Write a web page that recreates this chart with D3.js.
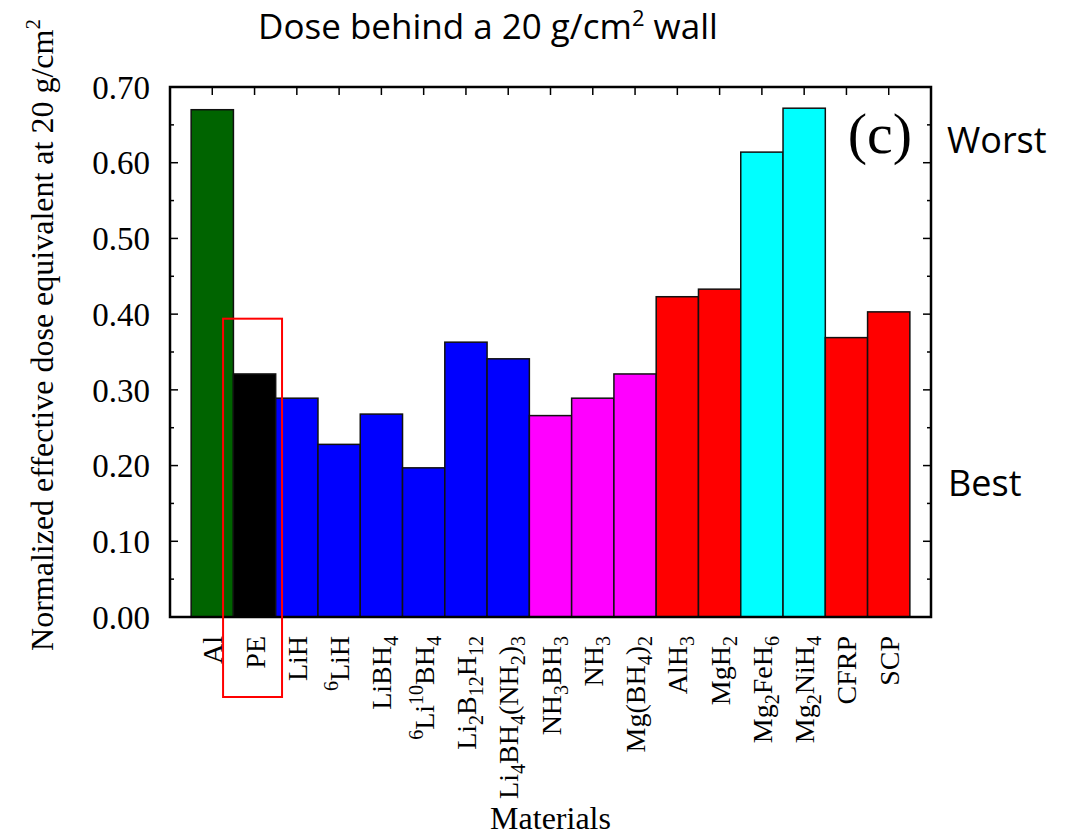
<!DOCTYPE html>
<html>
<head>
<meta charset="utf-8">
<script src="https://cdn.jsdelivr.net/npm/d3@7"></script>
<style>
  body { margin: 0; background: #fff; }
  svg { display: block; }
</style>
</head>
<body>
<div id="chart"></div>
<script>
// Dose behind a 20 g/cm2 wall, panel (c)
(function() {
    const width = 1069;
    const height = 838;
    const plot = {left: 170, right: 931, top: 87, bottom: 617};
    const serif = '"Liberation Serif", "Times New Roman", Times, serif';
    const sans = '"Open Sans", "Noto Sans", sans-serif';

    // label parts: [text, 'sub' | 'sup' | '']
    const materials = [
        [['Al', '']],
        [['PE', '']],
        [['LiH', '']],
        [['6', 'sup'], ['LiH', '']],
        [['LiBH', ''], ['4', 'sub']],
        [['6', 'sup'], ['Li', ''], ['10', 'sup'], ['BH', ''], ['4', 'sub']],
        [['Li', ''], ['2', 'sub'], ['B', ''], ['12', 'sub'], ['H', ''], ['12', 'sub']],
        [['Li', ''], ['4', 'sub'], ['BH', ''], ['4', 'sub'], ['(NH', ''], ['2', 'sub'], [')', ''], ['3', 'sub']],
        [['NH', ''], ['3', 'sub'], ['BH', ''], ['3', 'sub']],
        [['NH', ''], ['3', 'sub']],
        [['Mg(BH', ''], ['4', 'sub'], [')', ''], ['2', 'sub']],
        [['AlH', ''], ['3', 'sub']],
        [['MgH', ''], ['2', 'sub']],
        [['Mg', ''], ['2', 'sub'], ['FeH', ''], ['6', 'sub']],
        [['Mg', ''], ['2', 'sub'], ['NiH', ''], ['4', 'sub']],
        [['CFRP', '']],
        [['SCP', '']]
    ];
    const doses = [0.670, 0.321, 0.289, 0.228, 0.268, 0.197, 0.363, 0.341,
                   0.266, 0.289, 0.321, 0.423, 0.433, 0.614, 0.672, 0.369, 0.403];
    const groups = ['metal', 'polymer', 'lithium', 'lithium', 'lithium', 'lithium', 'lithium', 'lithium',
                    'nitrogen', 'nitrogen', 'nitrogen', 'hydride', 'hydride', 'complex', 'complex', 'hydride', 'hydride'];
    const groupColors = {
        metal: '#006400', polymer: '#000000', lithium: '#0000ff',
        nitrogen: '#ff00ff', hydride: '#ff0000', complex: '#00ffff'
    };
    const yTicks = [0, 0.1, 0.2, 0.3, 0.4, 0.5, 0.6, 0.7];
    const yMinorTicks = [0.05, 0.15, 0.25, 0.35, 0.45, 0.55, 0.65];
    // highlight box around PE (x in bar units, top in dose units)
    const highlight = {x0: 1.255, x1: 2.65, top: 0.394};

    const x = d3.scaleLinear()
        .domain([0, materials.length + 1])
        .range([plot.left, plot.right]);
    const y = d3.scaleLinear()
        .domain([0, 0.7])
        .range([plot.bottom, plot.top]);
    const barW = x(1) - x(0);

    const svg = d3.select('#chart')
        .append('svg')
        .attr('width', width)
        .attr('height', height);

    // bars
    svg.append('g')
        .selectAll('rect')
        .data(doses)
        .enter()
        .append('rect')
        .attr('x', (d, i) => x(i + 1) - barW / 2)
        .attr('y', d => y(d))
        .attr('width', barW)
        .attr('height', d => y(0) - y(d))
        .attr('fill', (d, i) => groupColors[groups[i]])
        .attr('stroke', '#111')
        .attr('stroke-width', 1.5);

    // inward ticks on all four sides
    const ticks = svg.append('g').attr('stroke', '#000').attr('stroke-width', 1.5);
    yTicks.forEach(t => {
        ticks.append('line').attr('x1', plot.left).attr('x2', plot.left + 8).attr('y1', y(t)).attr('y2', y(t));
        ticks.append('line').attr('x1', plot.right).attr('x2', plot.right - 8).attr('y1', y(t)).attr('y2', y(t));
    });
    yMinorTicks.forEach(t => {
        ticks.append('line').attr('x1', plot.left).attr('x2', plot.left + 4).attr('y1', y(t)).attr('y2', y(t));
        ticks.append('line').attr('x1', plot.right).attr('x2', plot.right - 4).attr('y1', y(t)).attr('y2', y(t));
    });
    materials.forEach((m, i) => {
        ticks.append('line').attr('x1', x(i + 1)).attr('x2', x(i + 1)).attr('y1', plot.top).attr('y2', plot.top + 8);
    });

    // frame
    svg.append('rect')
        .attr('x', plot.left)
        .attr('y', plot.top)
        .attr('width', plot.right - plot.left)
        .attr('height', plot.bottom - plot.top)
        .attr('fill', 'none')
        .attr('stroke', '#000')
        .attr('stroke-width', 2.5);

    // y tick labels
    const yAxis = svg.append('g')
        .attr('transform', `translate(${plot.left - 20},0)`)
        .call(d3.axisLeft(y).tickValues(yTicks).tickFormat(d3.format('.2f')).tickSize(0));
    yAxis.select('.domain').remove();
    yAxis.selectAll('text')
        .style('font-family', serif)
        .style('font-size', '33px')
        .attr('fill', '#000')
        .attr('x', 0)
        .attr('dy', '0.34em');

    // x labels, rotated
    const xl = svg.append('g').style('font-family', serif);
    materials.forEach((parts, i) => {
        const t = xl.append('text')
            .attr('transform', `translate(${x(i + 1) + 10},636) rotate(-90)`)
            .attr('text-anchor', 'end')
            .style('font-size', '28px');
        let shift = 0;
        parts.forEach(([s, kind]) => {
            const target = kind === 'sub' ? 7 : kind === 'sup' ? -11 : 0;
            t.append('tspan')
                .attr('dy', target - shift)
                .style('font-size', kind ? '20px' : '28px')
                .text(s);
            shift = target;
        });
    });

    // highlight box
    svg.append('rect')
        .attr('x', x(highlight.x0))
        .attr('y', y(highlight.top))
        .attr('width', x(highlight.x1) - x(highlight.x0))
        .attr('height', 697 - y(highlight.top))
        .attr('fill', 'none')
        .attr('stroke', '#ff0000')
        .attr('stroke-width', 2);

    // axis titles
    svg.append('text')
        .attr('x', (plot.left + plot.right) / 2)
        .attr('y', 829)
        .attr('text-anchor', 'middle')
        .style('font-family', serif)
        .style('font-size', '32px')
        .text('Materials');

    const yt = svg.append('text')
        .attr('transform', 'translate(53,335) rotate(-90)')
        .attr('text-anchor', 'middle')
        .style('font-family', serif)
        .style('font-size', '32px');
    yt.append('tspan').text('Normalized effective dose equivalent at 20 g/cm');
    yt.append('tspan').attr('dy', -13).style('font-size', '21px').text('2');

    // panel label
    svg.append('text')
        .attr('x', 912)
        .attr('y', 153)
        .attr('text-anchor', 'end')
        .style('font-family', serif)
        .style('font-size', '58px')
        .text('(c)');

    // title and side notes
    const title = svg.append('text')
        .attr('x', 258)
        .attr('y', 39)
        .style('font-family', sans)
        .style('font-size', '35px');
    title.append('tspan').text('Dose behind a 20 g/cm');
    title.append('tspan').attr('dy', -13).style('font-size', '22px').text('2');
    title.append('tspan').attr('dy', 13).text(' wall');

    svg.append('text')
        .attr('x', 947)
        .attr('y', 153)
        .style('font-family', sans)
        .style('font-size', '36px')
        .text('Worst');
    svg.append('text')
        .attr('x', 948)
        .attr('y', 496)
        .style('font-family', sans)
        .style('font-size', '36px')
        .text('Best');
})();
</script>
</body>
</html>
